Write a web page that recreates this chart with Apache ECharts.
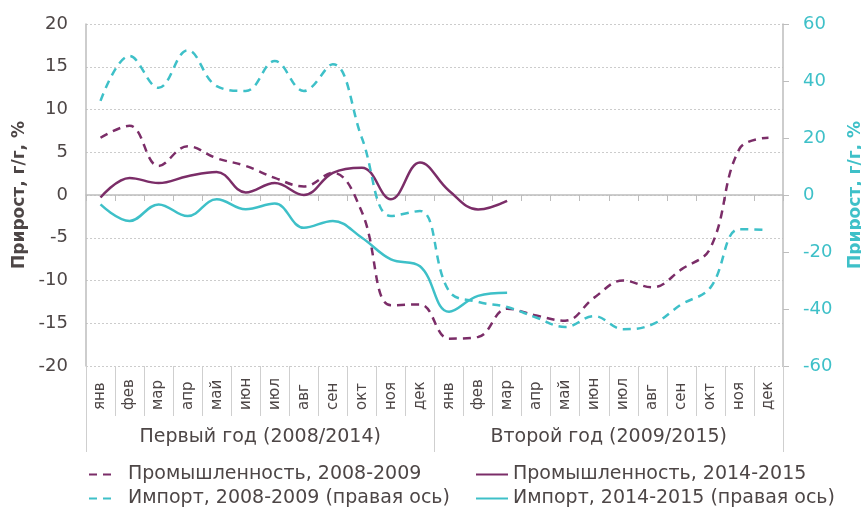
<!DOCTYPE html>
<html>
<head>
<meta charset="utf-8">
<script src="https://cdn.jsdelivr.net/npm/echarts@6/dist/echarts.min.js"></script>
<style>
html,body{margin:0;padding:0;background:#fff;}
#chart{width:861px;height:507px;}
</style>
</head>
<body>
<div id="chart"></div>
<script>
var months = ['янв','фев','мар','апр','май','июн','июл','авг','сен','окт','ноя','дек',
              'янв','фев','мар','апр','май','июн','июл','авг','сен','окт','ноя','дек'];
var groups = ['Первый год (2008/2014)', 'Второй год (2009/2015)'];
var leftTicks = {min: -20, max: 20, interval: 5};
var rightTicks = {min: -60, max: 60, interval: 20};
var axisName = 'Прирост, г/г, %';

var names = ['Промышленность, 2008-2009', 'Промышленность, 2014-2015',
             'Импорт, 2008-2009 (правая ось)', 'Импорт, 2014-2015 (правая ось)'];

var prom0809 = [6.7, 8.1, 3.4, 5.7, 4.3, 3.4, 2.0, 1.0, 2.6, -2.0, -12.9, -12.8,
                -16.8, -16.6, -13.3, -14.1, -14.7, -12.0, -10.0, -10.8, -8.7, -6.2, 5.4, 6.7];
var prom1415 = [-0.3, 2.0, 1.4, 2.2, 2.7, 0.3, 1.4, 0.0, 2.6, 3.2, -0.5, 3.8,
                0.5, -1.7, -0.7];
var imp0809 = [33, 48.8, 37.6, 50.8, 38.2, 36.5, 47, 36.5, 45.9, 20, -7.4, -5.6,
               -33.7, -37.5, -39.3, -43, -46.3, -42.5, -47.1, -45.4, -38.4, -32.5, -12, -12.3];
var imp1415 = [-3.3, -9.1, -3.3, -7.4, -1.5, -5.0, -3.0, -11.5, -9.1, -15, -22.6, -25,
               -41, -35.4, -34.3];

var purple = '#7b2d68';
var cyan = '#3ec0c8';
var textCol = '#4d4646';
var FONT = 'DejaVu Sans';

function legendAt(name, left, top, w) {
  return {left: left, top: top, orient: 'horizontal', itemWidth: w, itemHeight: 14,
          itemStyle: {opacity: 0},
          textStyle: {fontSize: 19, color: textCol, fontFamily: FONT, padding: [0, 0, 0, w > 30 ? 0 : 8]},
          data: [name]};
}

var chart = echarts.init(document.getElementById('chart'));
chart.setOption({
  animation: false,
  textStyle: {fontFamily: FONT},
  grid: {left: 86, right: 78, top: 24, bottom: 141, containLabel: false, outerBoundsMode: 'none'},
  legend: [
    legendAt(names[0], 83, 460, 26),
    legendAt(names[2], 83, 484, 26),
    legendAt(names[1], 470, 460, 32),
    legendAt(names[3], 470, 484, 32)
  ],
  xAxis: [
    {type: 'category', data: months, boundaryGap: true, position: 'bottom',
     axisLine: {onZero: true, lineStyle: {color: '#bdbdbd', width: 1.5}},
     axisTick: {show: true, interval: 0, length: 6, lineStyle: {color: '#bdbdbd'}},
     axisLabel: {show: false}, splitLine: {show: false}},
    {type: 'category', data: months, boundaryGap: true, position: 'bottom',
     axisLine: {show: false, onZero: false},
     axisTick: {show: true, interval: 0, length: 50, lineStyle: {color: '#cfcfcf'}},
     axisLabel: {show: true, interval: 0, rotate: 90, align: 'left', verticalAlign: 'middle',
                 margin: 44, fontSize: 15, color: textCol, fontFamily: FONT},
     splitLine: {show: false}},
    {type: 'category', data: groups, boundaryGap: true, position: 'bottom',
     axisLine: {show: false, onZero: false},
     axisTick: {show: true, interval: 0, length: 86, lineStyle: {color: '#cfcfcf'}},
     axisLabel: {show: true, interval: 0, margin: 62, fontSize: 19, color: textCol, fontFamily: FONT},
     splitLine: {show: false}}
  ],
  yAxis: [
    {type: 'value', position: 'left', min: leftTicks.min, max: leftTicks.max, interval: leftTicks.interval,
     name: axisName, nameLocation: 'middle', nameGap: 58, nameRotate: 90,
     nameTextStyle: {fontSize: 17, fontWeight: 'bold', color: textCol, fontFamily: FONT},
     axisLine: {show: true, lineStyle: {color: '#bdbdbd', width: 1.5}},
     axisTick: {show: false},
     axisLabel: {fontSize: 18, color: textCol, margin: 18, fontFamily: FONT},
     splitLine: {show: true, lineStyle: {color: '#cccccc', type: [2, 2], width: 1}}},
    {type: 'value', position: 'right', min: rightTicks.min, max: rightTicks.max, interval: rightTicks.interval,
     name: axisName, nameLocation: 'middle', nameGap: 64, nameRotate: 90,
     nameTextStyle: {fontSize: 17, fontWeight: 'bold', color: cyan, fontFamily: FONT},
     axisLine: {show: true, lineStyle: {color: '#bdbdbd', width: 1.5}},
     axisTick: {show: true, length: 6, lineStyle: {color: '#bdbdbd'}},
     axisLabel: {fontSize: 18, color: cyan, margin: 20, fontFamily: FONT},
     splitLine: {show: false}}
  ],
  series: [
    {name: names[0], type: 'line', xAxisIndex: 0, yAxisIndex: 0, data: prom0809, smooth: 0.4,
     symbol: 'none', lineStyle: {color: purple, width: 2.5, type: [8, 6]}, itemStyle: {color: purple}},
    {name: names[1], type: 'line', xAxisIndex: 0, yAxisIndex: 0, data: prom1415, smooth: 0.4,
     symbol: 'none', lineStyle: {color: purple, width: 2.5}, itemStyle: {color: purple}},
    {name: names[2], type: 'line', xAxisIndex: 0, yAxisIndex: 1, data: imp0809, smooth: 0.4,
     symbol: 'none', lineStyle: {color: cyan, width: 2.5, type: [8, 6]}, itemStyle: {color: cyan}},
    {name: names[3], type: 'line', xAxisIndex: 0, yAxisIndex: 1, data: imp1415, smooth: 0.4,
     symbol: 'none', lineStyle: {color: cyan, width: 2.5}, itemStyle: {color: cyan}}
  ]
});
</script>
</body>
</html>
